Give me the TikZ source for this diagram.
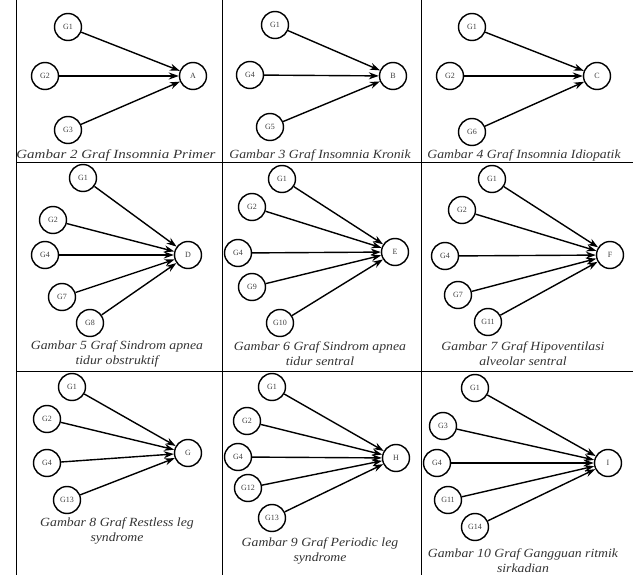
\documentclass[tikz,border=0pt]{standalone}
\usepackage{fontspec}
\setmainfont{Liberation Serif}
\newfontfamily\capfont[FakeStretch=1.1]{Liberation Serif}
\newfontfamily\capfontw[FakeStretch=1.2]{Liberation Serif}
\usetikzlibrary{arrows.meta}
\begin{document}
\begin{tikzpicture}[x=1pt,y=-1pt,
  gnode/.style={circle,draw,line width=1.4pt,minimum size=27pt,inner sep=0pt,font=\fontsize{8}{9}\selectfont,text=black!75},
  edge/.style={-{Stealth[length=10pt,width=7pt]},line width=1.4pt},
  captext/.style={font=\capfont\fontsize{12.5}{15}\selectfont\itshape,align=center,inner sep=0pt,text=black!80},
  captextw/.style={captext,font=\capfontw\fontsize{12.5}{15}\selectfont\itshape},
  gridline/.style={line width=1pt}]
\useasboundingbox (0,0) rectangle (633,575);
% grid
\coordinate (v1t) at (16,0);   \coordinate (v1b) at (16,575);
\coordinate (v2t) at (222,0);  \coordinate (v2b) at (222,575);
\coordinate (v3t) at (421,0);  \coordinate (v3b) at (421,575);
\coordinate (h1l) at (16,163); \coordinate (h1r) at (633,163);
\coordinate (h2l) at (16,372); \coordinate (h2r) at (633,372);
\draw[gridline] (v1t) -- (v1b);
\draw[gridline] (v2t) -- (v2b);
\draw[gridline] (v3t) -- (v3b);
\draw[gridline] (h1l) -- (h1r);
\draw[gridline] (h2l) -- (h2r);

% Panel 1
\node[gnode] (a1) at (68,27) {G1};
\node[gnode] (a2) at (45,76) {G2};
\node[gnode] (a3) at (68,130) {G3};
\node[gnode] (A) at (193,76) {A};
\foreach \s in {a1,a2,a3} \draw[edge] (\s) -- (A);
\node[captextw] (capA) at (116,155) {Gambar 2 Graf Insomnia Primer};

% Panel 2
\node[gnode] (b1) at (275,25) {G1};
\node[gnode] (b2) at (250,75) {G4};
\node[gnode] (b3) at (270,127) {G5};
\node[gnode] (B) at (393,76) {B};
\foreach \s in {b1,b2,b3} \draw[edge] (\s) -- (B);
\node[captext] (capB) at (320,155) {Gambar 3 Graf Insomnia Kronik};

% Panel 3
\node[gnode] (c1) at (472,27) {G1};
\node[gnode] (c2) at (450,76) {G2};
\node[gnode] (c3) at (472,132) {G6};
\node[gnode] (C) at (597,76) {C};
\foreach \s in {c1,c2,c3} \draw[edge] (\s) -- (C);
\node[captext] (capC) at (524,155) {Gambar 4 Graf Insomnia Idiopatik};

% Panel 4
\node[gnode] (d1) at (83,178) {G1};
\node[gnode] (d2) at (53,220) {G2};
\node[gnode] (d3) at (45,255) {G4};
\node[gnode] (d4) at (62,297) {G7};
\node[gnode] (d5) at (90,323) {G8};
\node[gnode] (D) at (188,255) {D};
\foreach \s in {d1,d2,d3,d4,d5} \draw[edge] (\s) -- (D);
\node[captext] (capD) at (117,354) {Gambar 5 Graf Sindrom apnea\\tidur obstruktif};

% Panel 5
\node[gnode] (e1) at (282,179) {G1};
\node[gnode] (e2) at (252,207) {G2};
\node[gnode] (e3) at (238,253) {G4};
\node[gnode] (e4) at (252,287) {G9};
\node[gnode] (e5) at (280,323) {G10};
\node[gnode] (E) at (395,252) {E};
\foreach \s in {e1,e2,e3,e4,e5} \draw[edge] (\s) -- (E);
\node[captext] (capE) at (320,354) {Gambar 6 Graf Sindrom apnea\\tidur sentral};

% Panel 6
\node[gnode] (f1) at (492,179) {G1};
\node[gnode] (f2) at (462,210) {G2};
\node[gnode] (f3) at (445,256) {G4};
\node[gnode] (f4) at (458,295) {G7};
\node[gnode] (f5) at (488,322) {G11};
\node[gnode] (F) at (610,255) {F};
\foreach \s in {f1,f2,f3,f4,f5} \draw[edge] (\s) -- (F);
\node[captext] (capF) at (523,354) {Gambar 7 Graf Hipoventilasi\\alveolar sentral};

% Panel 7
\node[gnode] (g1) at (72,387) {G1};
\node[gnode] (g2) at (47,419) {G2};
\node[gnode] (g3) at (47,463) {G4};
\node[gnode] (g4) at (67,500) {G13};
\node[gnode] (G) at (188,453) {G};
\foreach \s in {g1,g2,g3,g4} \draw[edge] (\s) -- (G);
\node[captext] (capG) at (117,531) {Gambar 8 Graf Restless leg\\syndrome};

% Panel 8
\node[gnode] (h1) at (272,387) {G1};
\node[gnode] (h2) at (247,421) {G2};
\node[gnode] (h3) at (238,457) {G4};
\node[gnode] (h4) at (248,488) {G12};
\node[gnode] (h5) at (272,518) {G13};
\node[gnode] (H) at (396,458) {H};
\foreach \s in {h1,h2,h3,h4,h5} \draw[edge] (\s) -- (H);
\node[captext] (capH) at (320,551) {Gambar 9 Graf Periodic leg\\syndrome};

% Panel 9
\node[gnode] (i1) at (475,388) {G1};
\node[gnode] (i2) at (443,426) {G3};
\node[gnode] (i3) at (437,463) {G4};
\node[gnode] (i4) at (448,500) {G11};
\node[gnode] (i5) at (475,527) {G14};
\node[gnode] (I) at (608,463) {I};
\foreach \s in {i1,i2,i3,i4,i5} \draw[edge] (\s) -- (I);
\node[captext] (capI) at (523,561) {Gambar 10 Graf Gangguan ritmik\\sirkadian};
\end{tikzpicture}
\end{document}
